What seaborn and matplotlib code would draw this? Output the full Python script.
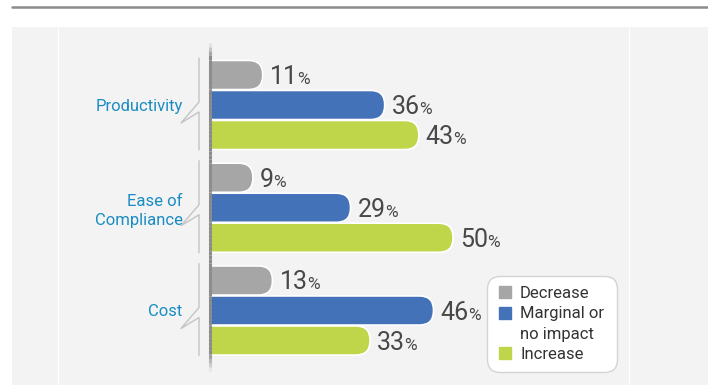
import numpy as np
import pandas as pd
import matplotlib
matplotlib.use("Agg")
import matplotlib.pyplot as plt
import seaborn as sns
from matplotlib.patches import FancyBboxPatch, Rectangle
from matplotlib.lines import Line2D
from matplotlib.collections import LineCollection
from matplotlib.transforms import IdentityTransform

# --- data -------------------------------------------------------------
categories = ["Productivity", "Ease of\nCompliance", "Cost"]
impacts = ["Decrease", "Marginal or\nno impact", "Increase"]
decrease = [11, 9, 13]
marginal = [36, 29, 46]
increase = [43, 50, 33]
colors = ["#a6a6a6", "#4472b9", "#bfd64a"]

series = {impacts[0]: decrease, impacts[1]: marginal, impacts[2]: increase}
df = pd.DataFrame(
    [(cat, imp, vals[i]) for imp, vals in series.items() for i, cat in enumerate(categories)],
    columns=["area", "impact", "share"],
)

# --- figure -----------------------------------------------------------
sns.set_theme(style="white")
plt.rcParams["font.family"] = ["Roboto", "DejaVu Sans"]

W, H = 708, 385
fig = plt.figure(figsize=(W / 100, H / 100), dpi=100, facecolor="white")


def fx(x):
    return x / W


def fy(y):
    return 1 - y / H


# background panels and top rule
for x0, x1 in [(12, 57.5), (58.5, 628.5), (629.5, 708)]:
    fig.add_artist(Rectangle((fx(x0), 0), fx(x1 - x0), fy(27), transform=fig.transFigure,
                             facecolor="#f3f3f3", edgecolor="none", zorder=0))
fig.add_artist(Line2D([fx(12), fx(708)], [fy(7), fy(7)], transform=fig.transFigure,
                      color="#8c8c8c", lw=1.8, zorder=1))

ax_left, ax_right, ax_top, ax_bottom = 209, 620, 43, 365
ax = fig.add_axes([fx(ax_left), fy(ax_bottom), fx(ax_right - ax_left), (ax_bottom - ax_top) / H])
ax.set_facecolor("none")

sns.barplot(data=df, x="share", y="area", hue="impact", orient="h", palette=colors,
            saturation=1, width=0.876, gap=0.03, legend=False, ax=ax,
            edgecolor="white", linewidth=1.2, zorder=3)

px_per_x = 4.88
ax.set_xlim(0, (ax_right - ax_left) / px_per_x)
px_per_y = 102.75
ax.set_ylim(2 + (ax_bottom - 310.5) / px_per_y, -(105 - ax_top) / px_per_y)

for s in ax.spines.values():
    s.set_visible(False)
ax.set_xticks([])
ax.set_xlabel("")
ax.set_ylabel("")
ax.tick_params(axis="y", length=0, pad=19, labelsize=12, labelcolor="#1a8cc4")
for t in ax.get_yticklabels():
    t.set_linespacing(1.3)

# rounded right ends for the bars
x_per_px = 1 / px_per_x
y_per_px = 1 / px_per_y
radius_px = 14
for patch in list(ax.patches):
    x, y = patch.get_x(), patch.get_y()
    w, h = patch.get_width(), patch.get_height()
    fc = patch.get_facecolor()
    patch.remove()
    extra = 6
    rb = FancyBboxPatch((x - extra, y), w + extra, h,
                        boxstyle=f"round,pad=0,rounding_size={radius_px * x_per_px}",
                        mutation_aspect=y_per_px / x_per_px,
                        facecolor=fc, edgecolor="white", linewidth=1.2, zorder=3)
    ax.add_patch(rb)

fig.canvas.draw()
renderer = fig.canvas.get_renderer()

# value labels: number plus a smaller percent sign
for container, vals in zip(ax.containers, [decrease, marginal, increase]):
    for bar, v in zip(container, vals):
        yc = bar.get_y() + bar.get_height() / 2
        num = ax.annotate(f"{v}", xy=(v, yc), xytext=(7, -9), textcoords="offset pixels",
                          ha="left", va="baseline", fontsize=18, fontweight="normal",
                          color="#484848", annotation_clip=False)
        wpx = num.get_window_extent(renderer).width
        ax.annotate("%", xy=(v, yc), xytext=(7 + wpx - 0.5, -9), textcoords="offset pixels",
                    ha="left", va="baseline", fontsize=12.5, fontweight="normal",
                    color="#484848", annotation_clip=False)

# vertical axis line with soft ends
xpix = ax_left + 1
segs, alphas = [], []
ys = np.linspace(ax_top, ax_bottom + 6, 80)
for a, b in zip(ys[:-1], ys[1:]):
    segs.append([(xpix, H - a), (xpix, H - b)])
    m = (a + b) / 2
    fade = min(1, (m - ax_top) / 14, (ax_bottom + 6 - m) / 18)
    alphas.append(max(0, fade))
lc = LineCollection(segs, colors=[(0.55, 0.55, 0.55, al) for al in alphas], linewidths=2.2,
                    transform=IdentityTransform(), zorder=5)
fig.add_artist(lc)

# brackets with a small zigzag pointing at each group label
for i in range(len(categories)):
    cy = H - ax.transData.transform((0, i))[1]
    top = cy - 47
    bot = cy + 45
    xs = [199, 199, 181, 199, 199]
    yy = [top, cy - 3, cy + 18, cy + 7, bot]
    fig.add_artist(Line2D(xs, [H - v for v in yy], transform=IdentityTransform(),
                          color="#c4c4c4", lw=1.0, zorder=2))

# legend: one row per text line, the marker sits on the first line of each entry
handles, labels = [], []
for c, lab in zip(colors, impacts):
    for k, line in enumerate(lab.split("\n")):
        if k == 0:
            handles.append(Line2D([], [], marker="s", linestyle="none", markersize=8.5,
                                  markerfacecolor=c, markeredgecolor=c))
        else:
            handles.append(Line2D([], [], linestyle="none"))
        labels.append(line)
leg = fig.legend(handles, labels, loc="upper left",
                 bbox_to_anchor=(fx(487), fy(276), fx(130), 0.0), mode="expand",
                 borderaxespad=0, frameon=True, fontsize=12, handlelength=1.0,
                 handletextpad=0.38, labelspacing=0.32, borderpad=0.6,
                 labelcolor="#333333")
frame = leg.get_frame()
frame.set_facecolor("white")
frame.set_edgecolor("#d4d4d4")
frame.set_linewidth(1.0)
frame.set_alpha(1)
frame.set_boxstyle("round,pad=0,rounding_size=0.8")

fig.savefig("out.png", dpi=100, facecolor="white")
